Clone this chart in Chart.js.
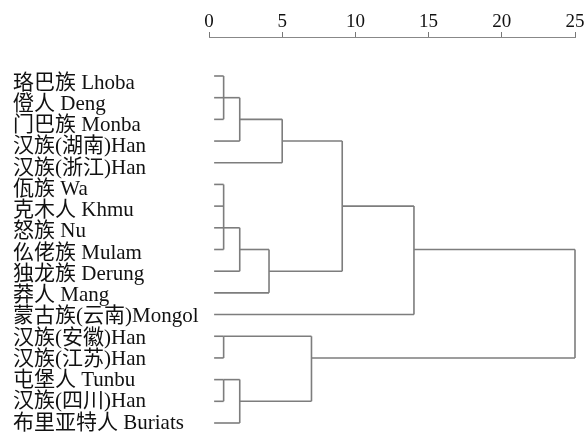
<!DOCTYPE html>
<html>
<head>
<meta charset="utf-8">
<script src="https://cdn.jsdelivr.net/npm/chart.js@4/dist/chart.umd.min.js"></script>
<style>
  html, body { margin: 0; padding: 0; background: #fff; }
  #wrap { width: 587px; height: 432px; }
</style>
</head>
<body>
<div id="wrap"><canvas id="c" width="587" height="432"></canvas></div>
<script>
// leaves, top to bottom
const labels = [
  '珞巴族 Lhoba', '僜人 Deng', '门巴族 Monba', '汉族(湖南)Han', '汉族(浙江)Han',
  '佤族 Wa', '克木人 Khmu', '怒族 Nu', '仫佬族 Mulam', '独龙族 Derung', '莽人 Mang',
  '蒙古族(云南)Mongol', '汉族(安徽)Han', '汉族(江苏)Han', '屯堡人 Tunbu',
  '汉族(四川)Han', '布里亚特人 Buriats'
];
const xTicks = [0, 5, 10, 15, 20, 25];
const leafStart = 0.35;

// merge steps: children are node ids (0..16 leaves, 17+ = earlier merges)
const mergeChildren = [
  [0, 1, 2], [17, 3], [18, 4],
  [5, 6, 7, 8], [20, 9], [21, 10],
  [19, 22], [23, 11],
  [12, 13], [14, 15], [26, 16], [25, 27],
  [24, 28]
];
const mergeHeights = [1.0, 2.1, 5.0, 1.0, 2.1, 4.1, 9.1, 14.0, 1.0, 1.0, 2.1, 7.0, 25];
// row the outgoing link leaves from (SPSS text-grid style)
const mergeRows = [1, 2, 3, 7, 8, 9, 6, 8, 12, 14, 15, 13, null];

const LINE = '#7d7d7d';
const FONT = '"Liberation Serif", "Noto Sans CJK SC", serif';

// build segments
const nodeX = labels.map(() => leafStart);
const nodeRow = labels.map((_, i) => i);
const segs = [];
mergeChildren.forEach((kids, m) => {
  const h = mergeHeights[m];
  kids.forEach(k => segs.push([{ x: nodeX[k], y: nodeRow[k] }, { x: h, y: nodeRow[k] }]));
  const rows = kids.map(k => nodeRow[k]);
  segs.push([{ x: h, y: Math.min(...rows) }, { x: h, y: Math.max(...rows) }]);
  nodeX.push(h);
  nodeRow.push(mergeRows[m]);
});

const datasets = segs.map(d => ({
  data: d, showLine: true, borderColor: LINE, borderWidth: 1.6,
  pointRadius: 0, clip: false, xAxisID: 'x', yAxisID: 'y'
}));

const noPad = s => { s.paddingTop = 0; s.paddingBottom = 0; };

new Chart(document.getElementById('c'), {
  type: 'scatter',
  data: { datasets },
  options: {
    responsive: false, animation: false,
    layout: { padding: { left: 13, right: 12, top: 0, bottom: 0 } },
    plugins: { legend: { display: false }, tooltip: { enabled: false } },
    scales: {
      x: {
        type: 'linear', position: 'top', min: 0, max: 25,
        afterBuildTicks: s => { s.ticks = xTicks.map(v => ({ value: v })); },
        afterFit: s => { s.height = 37; },
        ticks: { color: '#111', font: { family: FONT, size: 19 }, padding: -1, maxRotation: 0 },
        grid: { drawOnChartArea: false, tickLength: 5, color: '#777' },
        border: { display: true, dash: [4, 3], color: '#888' }
      },
      y: {
        type: 'linear', display: false, reverse: true, min: -1.798, max: 16.415,
        afterFit: noPad
      },
      yl: {
        type: 'linear', position: 'left', reverse: true, min: -2.165, max: 16.424,
        afterBuildTicks: s => { s.ticks = labels.map((_, i) => ({ value: i })); },
        afterFit: s => { s.width = 196; noPad(s); },
        ticks: {
          autoSkip: false, crossAlign: 'far', color: '#111',
          font: { family: FONT, size: 21 },
          callback: v => labels[v]
        },
        grid: { display: false },
        border: { display: false }
      }
    }
  }
});
</script>
</body>
</html>
